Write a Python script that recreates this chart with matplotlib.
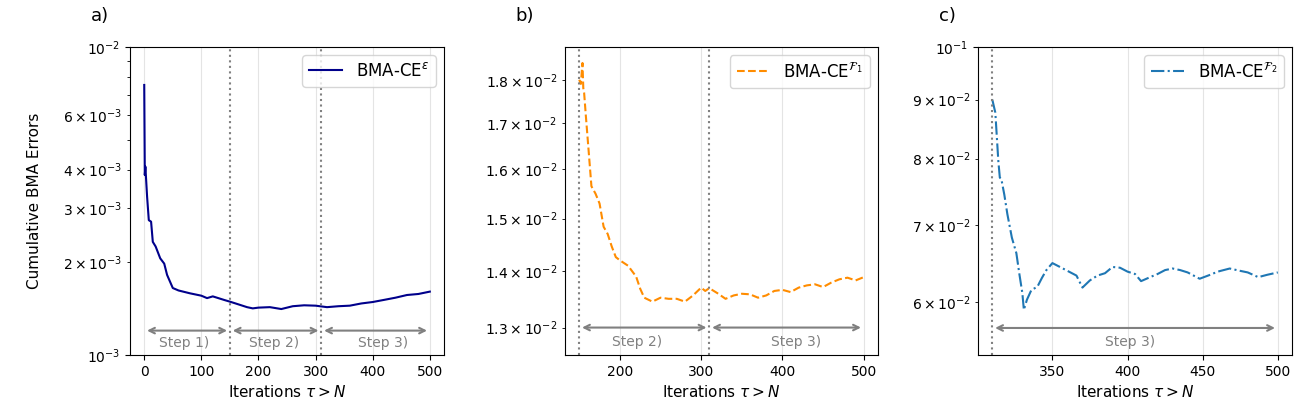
"""Cumulative BMA errors for the three steps."""

import matplotlib
matplotlib.use("Agg")
import matplotlib.pyplot as plt

# panel a) BMA-CE^eps, iterations 0..500
iters_a = [0, 1, 2, 5, 8, 12, 15, 20, 28, 35, 40, 50, 60, 80, 100, 110, 120, 140,
           150, 160, 180, 190, 200, 220, 240, 260, 280, 300, 320, 340, 360, 380,
           400, 420, 440, 460, 480, 500]
err_a = [7.53e-3, 3.84e-3, 4.09e-3, 3.27e-3, 2.74e-3, 2.71e-3, 2.33e-3, 2.25e-3,
         2.06e-3, 1.98e-3, 1.82e-3, 1.65e-3, 1.62e-3, 1.586e-3, 1.558e-3, 1.53e-3,
         1.55e-3, 1.509e-3, 1.49e-3, 1.47e-3, 1.43e-3, 1.417e-3, 1.425e-3, 1.43e-3,
         1.41e-3, 1.44e-3, 1.45e-3, 1.446e-3, 1.43e-3, 1.44e-3, 1.446e-3, 1.47e-3,
         1.486e-3, 1.51e-3, 1.535e-3, 1.566e-3, 1.578e-3, 1.606e-3]

# panel b) BMA-CE^F1, iterations 150..500
iters_b = [150, 152, 154, 155, 156, 158, 162, 165, 170, 175, 180, 185, 190, 195,
           200, 210, 215, 220, 225, 230, 240, 250, 260, 270, 280, 290, 300, 305,
           310, 320, 330, 340, 350, 360, 370, 380, 390, 400, 410, 420, 430, 440,
           450, 460, 470, 480, 490, 500]
err_b = [1.80e-2, 1.79e-2, 1.84e-2, 1.78e-2, 1.77e-2, 1.72e-2, 1.63e-2, 1.565e-2,
         1.55e-2, 1.53e-2, 1.484e-2, 1.47e-2, 1.446e-2, 1.426e-2, 1.42e-2, 1.41e-2,
         1.40e-2, 1.39e-2, 1.368e-2, 1.352e-2, 1.345e-2, 1.352e-2, 1.35e-2, 1.35e-2,
         1.345e-2, 1.356e-2, 1.37e-2, 1.364e-2, 1.369e-2, 1.36e-2, 1.35e-2, 1.356e-2,
         1.359e-2, 1.358e-2, 1.352e-2, 1.356e-2, 1.364e-2, 1.366e-2, 1.362e-2,
         1.37e-2, 1.374e-2, 1.376e-2, 1.371e-2, 1.379e-2, 1.385e-2, 1.388e-2,
         1.383e-2, 1.389e-2]

# panel c) BMA-CE^F2, iterations 310..500
iters_c = [310, 312, 314, 315, 316, 318, 320, 323, 326, 328, 330, 331, 333, 336,
           340, 343, 346, 350, 353, 357, 362, 366, 370, 375, 380, 385, 390, 395,
           400, 405, 409, 415, 420, 425, 430, 435, 440, 448, 455, 460, 468, 475,
           480, 487, 493, 500]
err_c = [9.0e-2, 8.77e-2, 7.96e-2, 7.7e-2, 7.68e-2, 7.44e-2, 7.16e-2, 6.83e-2,
         6.62e-2, 6.35e-2, 6.11e-2, 5.91e-2, 6.03e-2, 6.15e-2, 6.19e-2, 6.3e-2,
         6.4e-2, 6.49e-2, 6.46e-2, 6.42e-2, 6.37e-2, 6.33e-2, 6.18e-2, 6.27e-2,
         6.33e-2, 6.36e-2, 6.44e-2, 6.43e-2, 6.38e-2, 6.35e-2, 6.26e-2, 6.31e-2,
         6.35e-2, 6.4e-2, 6.42e-2, 6.4e-2, 6.37e-2, 6.29e-2, 6.34e-2, 6.38e-2,
         6.42e-2, 6.39e-2, 6.37e-2, 6.31e-2, 6.34e-2, 6.37e-2]

step_bounds = [0, 150, 310, 500]
step_labels = ["Step 1)", "Step 2)", "Step 3)"]


def step_arrow(ax, x0, x1, y, ytext, xtext, label):
    ax.annotate("", xy=(x1, y), xytext=(x0, y),
                arrowprops=dict(arrowstyle="<->", color="gray", lw=1.5))
    ax.text(xtext, ytext, label, color="gray", fontsize=10,
            ha="center", va="center")


fig = plt.figure(figsize=(13.1, 3.97), dpi=100)
ax_a = fig.add_axes([0.0992, 0.1058, 0.2398, 0.7758])
ax_b = fig.add_axes([0.4313, 0.1058, 0.2389, 0.7758])
ax_c = fig.add_axes([0.7466, 0.1058, 0.2397, 0.7758])

ax_a.plot(iters_a, err_a, color="darkblue", lw=1.5, label=r"BMA-CE$^{\varepsilon}$")
ax_b.plot(iters_b, err_b, color="darkorange", ls="--", lw=1.5,
          label=r"BMA-CE$^{\mathcal{F}_1}$")
ax_c.plot(iters_c, err_c, color="tab:blue", ls="-.", lw=1.5,
          label=r"BMA-CE$^{\mathcal{F}_2}$")

for ax in (ax_a, ax_b, ax_c):
    ax.set_yscale("log")
    ax.grid(axis="x", color="lightgray", alpha=0.6)
    ax.set_xlabel(r"Iterations $\tau > N$", fontsize=11)
    ax.legend(loc="upper right", fontsize=12)

ax_a.set_ylim(1e-3, 1e-2)
ax_b.set_ylim(0.01254, 0.01879)
ax_c.set_ylim(0.054, 0.1)

# step boundaries
for x in step_bounds[1:3]:
    ax_a.axvline(x, color="gray", ls=":", lw=1.5)
    ax_b.axvline(x, color="gray", ls=":", lw=1.5)
ax_c.axvline(step_bounds[2], color="gray", ls=":", lw=1.5)

step_arrow(ax_a, step_bounds[0], step_bounds[1], 1.2e-3, 1.09e-3, 70, step_labels[0])
step_arrow(ax_a, step_bounds[1], step_bounds[2], 1.2e-3, 1.09e-3, 228, step_labels[1])
step_arrow(ax_a, step_bounds[2], step_bounds[3], 1.2e-3, 1.09e-3, 418, step_labels[2])
step_arrow(ax_b, step_bounds[1], step_bounds[2], 1.3e-2, 1.276e-2, 221, step_labels[1])
step_arrow(ax_b, step_bounds[2], step_bounds[3], 1.3e-2, 1.276e-2, 417, step_labels[2])
step_arrow(ax_c, step_bounds[2], step_bounds[3], 5.7e-2, 5.54e-2, 402, step_labels[2])

ax_a.set_ylabel("Cumulative BMA Errors", fontsize=11)
ax_a.yaxis.set_label_coords(-0.28, 0.5)

for ax, tag, xoff in zip((ax_a, ax_b, ax_c), ("a)", "b)", "c)"),
                         (-0.125, -0.157, -0.125)):
    ax.text(xoff, 1.1, tag, transform=ax.transAxes, fontsize=13,
            ha="left", va="center")

fig.savefig("out.png", dpi=100)
